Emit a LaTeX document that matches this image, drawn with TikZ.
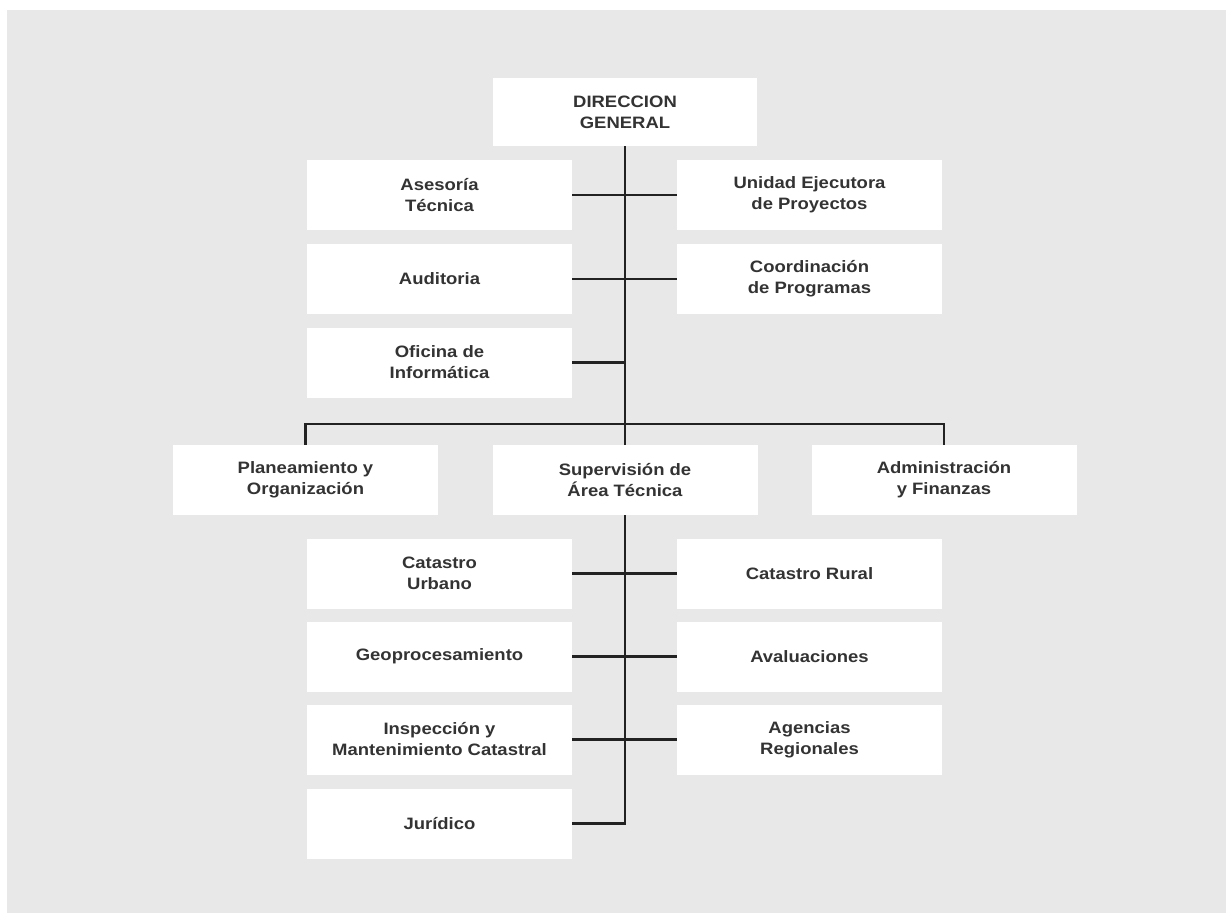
\documentclass[tikz,border=0pt]{standalone}
\usepackage{fontspec}
\setmainfont{Liberation Sans}[FakeStretch=1.12]
\definecolor{bgc}{HTML}{E8E8E8}
\definecolor{txt}{HTML}{333333}
\definecolor{ln}{HTML}{222222}
\begin{document}
\begin{tikzpicture}[x=1pt,y=-1pt,
  box/.style={fill=white,draw=none,inner sep=0pt,align=center,text=txt,
    font=\fontsize{16.5}{21}\selectfont\bfseries},
  lbox/.style={box,minimum width=265pt,minimum height=70pt},
  conn/.style={draw=ln,line width=2.4pt}]
\useasboundingbox (0,0) rectangle (1229,913);
\fill[white] (0,0) rectangle (1229,913);
\fill[bgc] (7,10) rectangle (1226,913);
% top
\node[box,minimum width=264pt,minimum height=68pt] (dg) at (625,112) {DIRECCION\\GENERAL};
% staff rows
\node[lbox] (ase) at (439.5,195) {Asesoría\\Técnica};
\node[lbox] (uep) at (809.5,195) {Unidad Ejecutora\\de Proyectos};
\node[lbox] (aud) at (439.5,279) {Auditoria};
\node[lbox] (cop) at (809.5,279) {Coordinación\\de Programas};
\node[lbox] (ofi) at (439.5,362.5) {Oficina de\\Informática};
% level 2
\node[lbox] (pla) at (305.5,480) {Planeamiento y\\Organización};
\node[lbox] (sup) at (625,480) {Supervisión de\\Área Técnica};
\node[lbox] (adm) at (944,480) {Administración\\y Finanzas};
% lower rows
\node[lbox] (cur) at (439.5,573.5) {Catastro\\Urbano};
\node[lbox] (cru) at (809.5,573.5) {Catastro Rural};
\node[lbox] (geo) at (439.5,656.5) {Geoprocesamiento};
\node[lbox] (ava) at (809.5,656.5) {Avaluaciones};
\node[lbox] (ins) at (439.5,739.5) {Inspección y\\Mantenimiento Catastral};
\node[lbox] (age) at (809.5,739.5) {Agencias\\Regionales};
\node[lbox] (jur) at (439.5,823.5) {Jurídico};
% connectors
\coordinate (bus) at (625,424);
\draw[conn] (dg.south) -- (sup.north);
\draw[conn] (ase.east) -- (uep.west);
\draw[conn] (aud.east) -- (cop.west);
\draw[conn] (ofi.east) -- (ofi.east -| dg.south);
\draw[conn] (pla.north) |- (bus) -| (adm.north);
\draw[conn] (sup.south) |- (jur.east);
\draw[conn] (cur.east) -- (cru.west);
\draw[conn] (geo.east) -- (ava.west);
\draw[conn] (ins.east) -- (age.west);
\end{tikzpicture}
\end{document}
